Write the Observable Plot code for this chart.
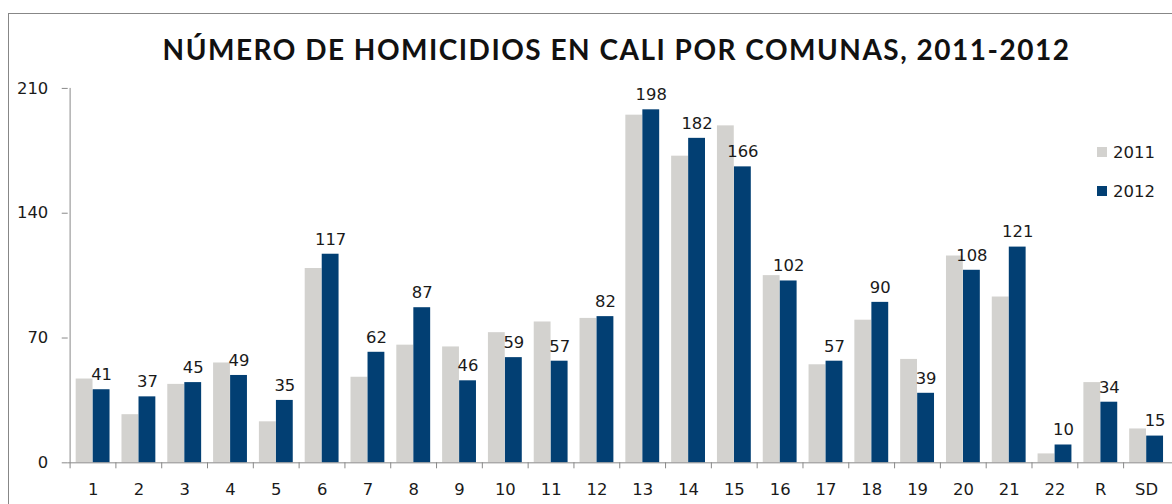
<!DOCTYPE html>
<html><head><meta charset="utf-8">
<script src="https://cdn.jsdelivr.net/npm/d3@7"></script>
<script src="https://cdn.jsdelivr.net/npm/@observablehq/plot@0.6"></script>
<style>
html,body{margin:0;padding:0;background:#fff;overflow:hidden;width:1172px;height:504px;}
#box{position:absolute;left:8px;top:13px;width:1300px;height:700px;border:1px solid #878787;box-sizing:border-box;}
#title{position:absolute;left:0;top:33px;width:1233px;text-align:center;font-family:Lato,"Open Sans",sans-serif;font-weight:bold;font-size:28px;letter-spacing:1.5px;line-height:32px;color:#111;white-space:nowrap;}
#chart{position:absolute;left:0;top:70px;}
#legend{position:absolute;left:1097px;top:141px;font-family:"DejaVu Sans",sans-serif;font-size:16.5px;color:#1a1a1a;}
.li{display:flex;align-items:center;height:22px;margin-bottom:17px;}
.sw{width:10px;height:10px;margin-right:6px;}
</style></head>
<body>
<div id="box"></div>
<div id="title">NÚMERO DE HOMICIDIOS EN CALI POR COMUNAS, 2011-2012</div>
<div id="chart"></div>
<div id="legend"></div>
<script>
const categories = ["1","2","3","4","5","6","7","8","9","10","11","12","13","14","15","16","17","18","19","20","21","22","R","SD"];
const homicidios2011 = [47,27,44,56,23,109,48,66,65,73,79,81,195,172,189,105,55,80,58,116,93,5,45,19];
const homicidios2012 = [41,37,45,49,35,117,62,87,46,59,57,82,198,182,166,102,57,90,39,108,121,10,34,15];
const yTicks = [0,70,140,210];
const series = ["2011","2012"];
const colors = ["#d3d2cf","#023f73"];

const data = categories.map((c,i)=>({comuna:c, y2011:homicidios2011[i], y2012:homicidios2012[i]}));

const W = 1177, ML = 68, MR = 0;
const step = (W-ML-MR)/categories.length;
const bw = step*0.74;
const axisColor = "#888";
const textColor = "#1a1a1a";
const fs = 16.5;

const plot = Plot.plot({
  width: W, height: 434,
  marginLeft: ML, marginRight: MR, marginTop: 18, marginBottom: 40,
  style: {fontFamily: "'DejaVu Sans', sans-serif", fontSize: fs + "px", color: textColor, background: "transparent", overflow: "visible"},
  x: {domain: categories, paddingInner: 0.26, paddingOuter: 0.13, axis: null},
  y: {domain: [0,210], axis: null},
  marks: [
    Plot.barY(data, {x:"comuna", y:"y2011", fill: colors[0], insetRight: bw/2}),
    Plot.barY(data, {x:"comuna", y:"y2012", fill: colors[1], insetLeft: bw/2}),
    Plot.ruleY([0], {stroke: axisColor}),
    Plot.ruleX([categories[0]], {y1: 0, y2: 210, dx: -step/2, stroke: axisColor}),
    Plot.axisY(yTicks, {tickSize: 6, tickPadding: 14, stroke: axisColor, fill: textColor, label: null, fontSize: fs}),
    Plot.axisX({tickSize: 6, tickFormat: () => "", dx: -step/2, stroke: axisColor, label: null}),
    Plot.axisX({tickSize: 0, tickPadding: 21, fill: textColor, label: null, fontSize: fs}),
    Plot.text(data, {x:"comuna", y:"y2012", text: d => String(d.y2012), dx: bw/4, dy: -15, fill: textColor, fontSize: fs})
  ]
});
document.getElementById("chart").appendChild(plot);

const legend = document.getElementById("legend");
series.forEach((s,i)=>{
  const row = document.createElement("div"); row.className="li";
  const sw = document.createElement("div"); sw.className="sw"; sw.style.background = colors[i];
  const t = document.createElement("span"); t.textContent = s;
  row.appendChild(sw); row.appendChild(t); legend.appendChild(row);
});
</script>
</body></html>
